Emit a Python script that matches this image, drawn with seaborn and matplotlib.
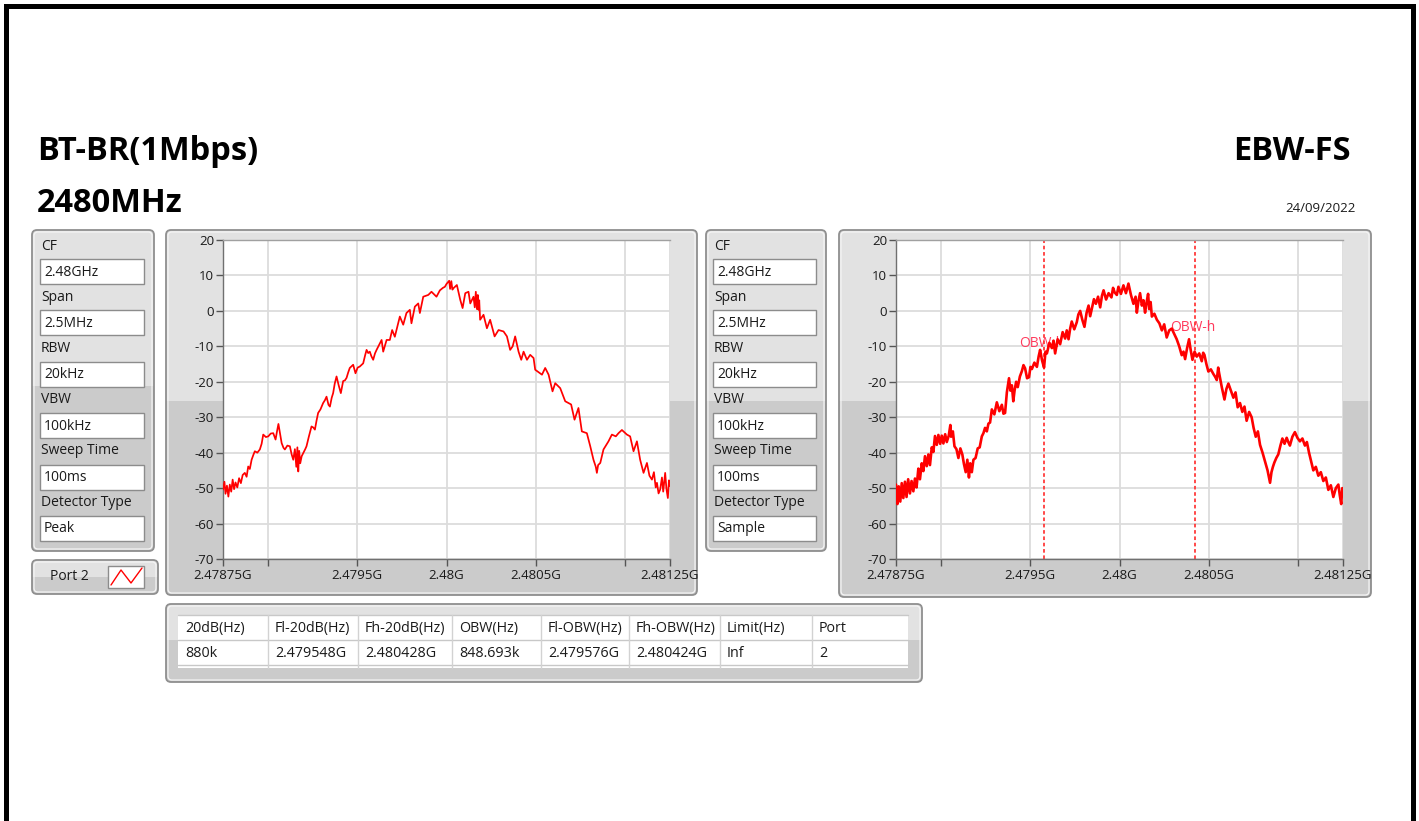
import numpy as np
import pandas as pd
import matplotlib
matplotlib.use("Agg")
import matplotlib.pyplot as plt
import seaborn as sns
from matplotlib.patches import FancyBboxPatch, Rectangle

# ---------------- data ----------------
title_left = "BT-BR(1Mbps)"
title_freq = "2480MHz"
title_right = "EBW-FS"
date_text = "24/09/2022"

param_labels = ["CF", "Span", "RBW", "VBW", "Sweep Time", "Detector Type"]
left_param_values = ["2.48GHz", "2.5MHz", "20kHz", "100kHz", "100ms", "Peak"]
right_param_values = ["2.48GHz", "2.5MHz", "20kHz", "100kHz", "100ms", "Sample"]
port_label = "Port 2"

center_ghz = 2.48
x_ticks = [2.47875, 2.479, 2.4795, 2.48, 2.4805, 2.481, 2.48125]
x_tick_labels = ["2.47875G", "", "2.4795G", "2.48G", "2.4805G", "", "2.48125G"]
y_ticks = [20, 10, 0, -10, -20, -30, -40, -50, -60, -70]

# Peak detector trace (offset from CF in MHz, level in dBm)
peak_off = [-1.250, -1.242, -1.236, -1.228, -1.220, -1.212, -1.204, -1.196, -1.188, -1.180,
            -1.170, -1.160, -1.150, -1.140, -1.128, -1.118, -1.109, -1.100, -1.090, -1.080,
            -1.072, -1.058, -1.044, -1.034, -1.025, -1.010, -0.997, -0.983, -0.969, -0.956,
            -0.948, -0.940, -0.930, -0.922, -0.912, -0.904, -0.890, -0.876, -0.866, -0.857,
            -0.848, -0.840, -0.834, -0.829, -0.824, -0.818, -0.810, -0.801, -0.790, -0.783,
            -0.770, -0.755, -0.745, -0.736, -0.727, -0.718, -0.705, -0.690, -0.680, -0.671,
            -0.660, -0.652, -0.642, -0.634, -0.625, -0.615, -0.603, -0.591, -0.578, -0.568,
            -0.559, -0.550, -0.541, -0.522, -0.509, -0.497, -0.485, -0.466, -0.455, -0.447,
            -0.438, -0.429, -0.420, -0.410, -0.400, -0.391, -0.377, -0.363, -0.354, -0.335,
            -0.317, -0.304, -0.289, -0.275, -0.261, -0.242, -0.224, -0.205, -0.196, -0.177,
            -0.158, -0.149, -0.130, -0.102, -0.084, -0.056, -0.037, -0.020, -0.009, 0.000,
            0.010, 0.015, 0.020, 0.027, 0.033, 0.039, 0.058, 0.077, 0.090, 0.105,
            0.123, 0.133, 0.151, 0.158, 0.164, 0.170, 0.175, 0.179, 0.183, 0.188,
            0.207, 0.226, 0.244, 0.269, 0.291, 0.319, 0.338, 0.356, 0.370, 0.384,
            0.403, 0.418, 0.431, 0.450, 0.468, 0.487, 0.496, 0.534, 0.552, 0.571,
            0.593, 0.608, 0.636, 0.664, 0.697, 0.716, 0.738, 0.757, 0.785, 0.804,
            0.822, 0.835, 0.841, 0.848, 0.860, 0.878, 0.906, 0.925, 0.947, 0.962,
            0.981, 1.009, 1.027, 1.046, 1.065, 1.083, 1.102, 1.121, 1.135, 1.149,
            1.160, 1.170, 1.177, 1.186, 1.195, 1.205, 1.212, 1.223, 1.230, 1.238,
            1.244, 1.250]
peak_db = [-50.4, -48.2, -51.6, -49.3, -52.4, -49.0, -51.0, -47.6, -50.3, -48.4,
           -49.8, -47.2, -48.6, -46.3, -45.7, -46.8, -43.9, -44.6, -42.0, -40.6,
           -39.6, -40.0, -39.1, -37.5, -34.9, -35.6, -35.4, -34.6, -34.5, -36.3,
           -34.0, -31.9, -34.8, -37.3, -38.6, -39.1, -38.0, -38.2, -40.5, -42.0,
           -39.0, -44.0, -38.5, -45.3, -39.5, -43.0, -41.0, -40.1, -39.0, -38.2,
           -35.5, -32.6, -32.9, -33.5, -31.0, -28.8, -27.8, -26.0, -25.2, -24.2,
           -26.5, -27.0, -24.5, -23.2, -20.5, -18.5, -21.0, -23.2, -19.8, -19.6,
           -18.9, -17.4, -16.1, -15.2, -17.6, -16.0, -15.7, -14.8, -12.5, -11.0,
           -11.9, -11.5, -12.8, -13.8, -12.0, -11.0, -9.6, -8.2, -11.5, -8.2,
           -8.2, -5.4, -7.3, -4.5, -1.6, -3.9, -0.6, 0.3, -3.5, 1.2,
           2.1, -0.6, 4.0, 4.5, 5.4, 4.0, 5.8, 6.5, 6.8, 7.6,
           8.2, 8.5, 6.2, 8.4, 6.0, 6.4, 7.3, 3.1, 0.8, 5.0,
           5.4, 2.1, 4.0, 1.0, 5.4, 0.5, 4.5, 0.3, 3.0, -2.5,
           -1.1, -4.9, -2.5, -7.2, -5.4, -5.8, -7.2, -11.0, -10.0, -7.2,
           -11.5, -13.8, -11.5, -13.8, -12.4, -13.3, -16.6, -18.0, -16.1, -18.0,
           -22.7, -20.4, -21.8, -25.5, -26.4, -30.7, -27.4, -34.0, -34.5, -38.2,
           -42.0, -44.0, -45.7, -43.5, -42.9, -39.1, -36.8, -34.9, -35.4, -34.5,
           -33.6, -34.9, -35.4, -39.6, -36.8, -42.0, -45.7, -42.9, -46.5, -47.6,
           -45.5, -49.8, -48.5, -51.5, -50.4, -47.0, -51.0, -45.7, -50.2, -52.8,
           -47.8, -49.4]

# Sample detector trace (offset from CF in MHz, level in dBm)
sample_off = [-1.250, -1.242, -1.235, -1.226, -1.218, -1.209, -1.200, -1.191, -1.182, -1.172,
              -1.163, -1.153, -1.144, -1.135, -1.125, -1.116, -1.106, -1.097, -1.088, -1.078,
              -1.069, -1.060, -1.050, -1.041, -1.032, -1.022, -1.013, -1.003, -0.994, -0.985,
              -0.975, -0.966, -0.955, -0.946, -0.942, -0.932, -0.923, -0.912, -0.901, -0.890,
              -0.879, -0.870, -0.860, -0.851, -0.842, -0.835, -0.826, -0.817, -0.805, -0.793,
              -0.782, -0.770, -0.761, -0.752, -0.742, -0.733, -0.724, -0.714, -0.700, -0.686,
              -0.672, -0.658, -0.649, -0.640, -0.630, -0.618, -0.610, -0.602, -0.594, -0.587,
              -0.578, -0.569, -0.557, -0.546, -0.537, -0.528, -0.517, -0.506, -0.498, -0.490,
              -0.476, -0.462, -0.452, -0.444, -0.433, -0.422, -0.414, -0.406, -0.392, -0.378,
              -0.369, -0.360, -0.346, -0.332, -0.318, -0.304, -0.295, -0.285, -0.276, -0.267,
              -0.253, -0.239, -0.230, -0.220, -0.208, -0.196, -0.184, -0.173, -0.164, -0.155,
              -0.143, -0.132, -0.120, -0.108, -0.098, -0.089, -0.075, -0.061, -0.045, -0.036,
              -0.027, -0.015, -0.006, 0.008, 0.022, 0.036, 0.050, 0.064, 0.078, 0.090,
              0.097, 0.106, 0.115, 0.125, 0.134, 0.143, 0.150, 0.160, 0.166, 0.174,
              0.181, 0.195, 0.209, 0.223, 0.237, 0.250, 0.264, 0.278, 0.292, 0.306,
              0.320, 0.334, 0.348, 0.358, 0.367, 0.378, 0.389, 0.398, 0.408, 0.420,
              0.432, 0.446, 0.460, 0.468, 0.475, 0.486, 0.497, 0.511, 0.525, 0.535,
              0.544, 0.552, 0.557, 0.572, 0.587, 0.598, 0.609, 0.623, 0.637, 0.649,
              0.661, 0.674, 0.687, 0.699, 0.711, 0.725, 0.739, 0.750, 0.762, 0.774,
              0.786, 0.800, 0.814, 0.828, 0.842, 0.850, 0.858, 0.866, 0.877, 0.888,
              0.900, 0.911, 0.923, 0.935, 0.944, 0.953, 0.967, 0.981, 0.995, 1.009,
              1.023, 1.037, 1.048, 1.060, 1.072, 1.084, 1.098, 1.112, 1.126, 1.140,
              1.154, 1.168, 1.182, 1.196, 1.210, 1.224, 1.232, 1.240, 1.246, 1.250]
sample_db = [-49.0, -54.5, -49.5, -53.8, -48.6, -52.8, -48.2, -52.5, -47.5, -51.5,
             -48.0, -50.9, -47.3, -49.8, -44.5, -47.5, -43.0, -45.2, -41.0, -43.8,
             -40.5, -43.5, -38.5, -39.8, -35.3, -37.8, -35.0, -37.5, -35.2, -37.4,
             -34.8, -37.0, -35.2, -32.2, -35.5, -34.0, -38.2, -39.0, -41.5, -38.8,
             -40.5, -43.2, -45.5, -42.0, -47.0, -43.0, -45.5, -42.0, -41.5, -38.8,
             -38.5, -35.4, -34.5, -33.0, -34.0, -31.8, -31.5, -27.8, -29.2, -25.8,
             -28.3, -26.5, -29.0, -28.8, -23.0, -19.0, -22.5, -21.0, -25.5, -22.5,
             -20.0, -21.5, -18.5, -17.0, -15.3, -16.2, -19.0, -18.7, -15.8, -16.4,
             -14.6, -15.8, -12.8, -11.0, -14.0, -16.0, -11.5, -12.0, -9.0, -10.5,
             -8.4, -12.0, -8.0, -9.4, -6.0, -7.8, -5.5, -8.0, -5.0, -3.0,
             -5.2, -3.2, -1.0, 0.0, -2.5, -4.5, -0.5, 1.5, -1.5, 0.5,
             3.3, 2.0, 4.0, 1.0, 4.3, 5.8, 3.2, 5.0, 3.8, 6.5,
             5.2, 4.5, 6.8, 4.8, 7.2, 5.0, 7.7, 4.5, 2.0, 4.0,
             -0.5, 2.8, 5.0, 1.5, 3.0, -0.5, 2.0, 4.8, 0.5, 2.5,
             -1.6, -0.8, -2.5, -3.5, -5.5, -3.8, -7.5, -5.5, -5.0, -6.5,
             -8.0, -10.0, -12.5, -11.5, -13.6, -10.5, -8.0, -11.0, -13.8, -11.5,
             -12.9, -12.0, -14.2, -11.8, -12.4, -15.0, -17.1, -16.5, -17.8, -18.6,
             -19.5, -16.0, -17.5, -21.5, -25.0, -22.0, -20.5, -22.5, -24.5, -23.0,
             -27.2, -26.0, -28.5, -27.0, -31.0, -28.5, -30.0, -33.0, -35.5, -34.0,
             -37.8, -40.0, -42.5, -45.0, -48.5, -45.5, -44.0, -42.8, -41.5, -40.5,
             -38.0, -36.0, -37.5, -35.8, -37.0, -38.0, -35.5, -34.2, -35.8, -36.8,
             -36.0, -38.0, -37.0, -40.0, -42.5, -45.0, -44.0, -46.5, -45.5, -48.0,
             -47.0, -50.5, -49.2, -52.5, -50.0, -49.0, -52.0, -54.5, -50.0, -51.5]

obw_low_ghz = 2.479576
obw_high_ghz = 2.480424
marker_labels = ["OBW-l", "OBW-h"]
marker_label_levels = [-9.1, -4.8]

table_headers = ["20dB(Hz)", "Fl-20dB(Hz)", "Fh-20dB(Hz)", "OBW(Hz)", "Fl-OBW(Hz)",
                 "Fh-OBW(Hz)", "Limit(Hz)", "Port"]
table_values = ["880k", "2.479548G", "2.480428G", "848.693k", "2.479576G",
                "2.480424G", "Inf", "2"]

peak_df = pd.DataFrame({"freq": center_ghz + np.array(peak_off) / 1000.0, "level": peak_db})
sample_df = pd.DataFrame({"freq": center_ghz + np.array(sample_off) / 1000.0, "level": sample_db})

# ---------------- figure ----------------
W, H = 1419, 821
sns.set_theme(style="white")
plt.rcParams['font.family'] = ['Open Sans', 'DejaVu Sans']

fig = plt.figure(figsize=(W / 100, H / 100), dpi=100)
fig.patch.set_facecolor("white")
bg = fig.add_axes([0, 0, 1, 1])
bg.set_xlim(0, W)
bg.set_ylim(H, 0)
bg.axis("off")

LIGHT = "#e2e2e2"
DARK = "#cbcbcb"
TXT = "#1a1a1a"
FS = 10

# outer black frame (open at bottom)
bg.plot([5.5, 5.5, 1412.5, 1412.5], [830, 6.5, 6.5, 830], color="black", lw=3.6,
        solid_joinstyle="miter")


def panel(x0, y0, x1, y1, split):
    base = FancyBboxPatch((x0, y0), x1 - x0, y1 - y0,
                          boxstyle="round,pad=0,rounding_size=5", fc=DARK, ec="none")
    bg.add_patch(base)
    top = Rectangle((x0, y0), x1 - x0, split - y0, fc=LIGHT, ec="none")
    bg.add_patch(top)
    top.set_clip_path(base)
    bg.add_patch(FancyBboxPatch((x0 + 2, y0 + 2), x1 - x0 - 4, y1 - y0 - 4,
                                boxstyle="round,pad=0,rounding_size=4", fc="none",
                                ec="#f4f4f4", lw=0.9))
    bg.add_patch(FancyBboxPatch((x0, y0), x1 - x0, y1 - y0,
                                boxstyle="round,pad=0,rounding_size=5", fc="none",
                                ec="#8f8f8f", lw=1.3))


def field(x0, y0, x1, y1, text):
    bg.add_patch(Rectangle((x0, y0), x1 - x0, y1 - y0, fc="white", ec="#8c8c8c", lw=1.0))
    bg.text(x0 + 4, (y0 + y1) / 2 + 0.5, text, ha="left", va="center", fontsize=FS, color=TXT)


def param_panel(x0, x1, fx0, fx1, values, split):
    panel(x0, 230, x1, 551, split)
    for i, (lab, val) in enumerate(zip(param_labels, values)):
        bg.text(fx0 + 1, 246 + 51.2 * i, lab, ha="left", va="center", fontsize=FS, color=TXT)
        field(fx0, 259 + 51.4 * i, fx1, 284 + 51.4 * i, val)


# titles
bg.text(37, 152, title_left, ha="left", va="center", fontsize=23.5, fontweight="bold", color="black")
bg.text(37, 204, title_freq, ha="left", va="center", fontsize=23.5, fontweight="bold", color="black")
bg.text(1351, 151, title_right, ha="right", va="center", fontsize=23.5, fontweight="bold", color="black")
bg.text(1356, 209, date_text, ha="right", va="center", fontsize=9.5, color=TXT)

# parameter panels
param_panel(32, 154, 40, 144, left_param_values, 386)
param_panel(706, 826, 713, 816, right_param_values, 401)

# plot panels
panel(166, 230, 697, 595, 401)
panel(839, 230, 1371, 597, 401)

# port legend
panel(32, 560, 158, 594, 577)
bg.text(50, 577, port_label, ha="left", va="center", fontsize=FS, color=TXT)
bg.add_patch(Rectangle((108, 566), 36, 22, fc="white", ec="#8c8c8c", lw=1.0))
bg.plot([111, 121, 131, 142], [585, 570, 583, 568], color="#ff0000", lw=1.0)

# result table
panel(166, 604, 922, 682, 640)
bg.add_patch(Rectangle((178, 615), 730, 53, fc="white", ec="none"))
col_x = [178, 268, 358, 452, 541, 629, 720, 812, 908]
for yy in [615.5, 640.5, 665.5]:
    bg.plot([178, 908], [yy, yy], color="#c8c8c8", lw=1.0)
for xx in col_x[1:-1]:
    bg.plot([xx, xx], [615, 668], color="#d2d2d2", lw=1.0)
for i, (hdr, val) in enumerate(zip(table_headers, table_values)):
    bg.text(col_x[i] + 7, 628.5, hdr, ha="left", va="center", fontsize=10.3, color=TXT)
    bg.text(col_x[i] + 7, 653.5, val, ha="left", va="center", fontsize=10.3, color=TXT)


def spectrum_axes(x0, x1, df, lw):
    ax = fig.add_axes([x0 / W, 1 - 559 / H, (x1 - x0) / W, (559 - 240) / H])
    ax.set_facecolor("white")
    sns.lineplot(data=df, x="freq", y="level", ax=ax, color="#ff0000", lw=lw,
                 estimator=None, sort=False, legend=False, zorder=3)
    ax.set_xlim(x_ticks[0], x_ticks[-1])
    ax.set_ylim(-70, 20)
    ax.set_xticks(x_ticks)
    ax.set_xticklabels(x_tick_labels)
    ax.set_yticks(y_ticks)
    ax.set_yticklabels([str(v) for v in y_ticks])
    ax.grid(True, color="#dcdcdc", lw=1.3)
    ax.set_axisbelow(True)
    ax.tick_params(axis="both", direction="out", length=5, width=1, color="#555555",
                   labelsize=9.5, labelcolor=TXT, bottom=True, left=True)
    ax.tick_params(axis="x", pad=2.5)
    ax.tick_params(axis="y", pad=1.5)
    for s in ["left", "bottom"]:
        ax.spines[s].set_color("#707070")
        ax.spines[s].set_linewidth(1.0)
    ax.spines["top"].set_color("#a0a0a0")
    ax.spines["top"].set_linewidth(1.0)
    ax.spines["right"].set_visible(False)
    ax.set_xlabel("")
    ax.set_ylabel("")
    return ax


ax1 = spectrum_axes(223, 670, peak_df, 1.25)
ax2 = spectrum_axes(896, 1343, sample_df, 1.9)

for f, lab, lev in zip([obw_low_ghz, obw_high_ghz], marker_labels, marker_label_levels):
    ax2.axvline(f, color="#ff3a3a", lw=1.3, ls=(0, (2.0, 1.5)), zorder=2)
    ax2.annotate(lab, xy=(f, lev), xytext=(-25, 0), textcoords="offset pixels",
                 ha="left", va="center", fontsize=10, color="#ff3a5c", zorder=1)

fig.savefig("out.png", dpi=100, facecolor="white")
